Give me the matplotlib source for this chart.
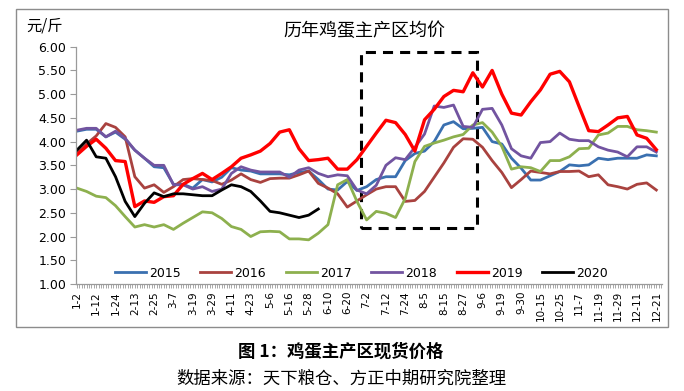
import matplotlib
matplotlib.use('Agg')
from matplotlib import pyplot as plt
from matplotlib.patches import Rectangle
import numpy as np

plt.rcParams['font.family'] = ['DejaVu Sans', 'Noto Sans CJK SC']
CJK = ['Noto Sans CJK SC', 'DejaVu Sans']

# tick labels, one every 8 trading days (series below are sampled every 4 days)
dates = ['1-2', '1-12', '1-24', '2-13', '2-25', '3-7', '3-19', '3-29', '4-11', '4-23',
         '5-6', '5-16', '5-28', '6-10', '6-20', '7-2', '7-12', '7-24', '8-5', '8-15',
         '8-27', '9-6', '9-19', '9-30', '10-15', '10-25', '11-7', '11-19', '11-29',
         '12-11', '12-21']

p2015 = [4.22, 4.26, 4.26, 4.1, 4.2, 4.05, 3.82, 3.65, 3.47, 3.45, 3.1, 3.1, 3.02, 3.2, 3.15, 3.25,
         3.45, 3.4, 3.38, 3.32, 3.32, 3.32, 3.3, 3.35, 3.38, 3.2, 3.0, 2.98, 3.16, 2.97, 3.05,
         3.2, 3.26, 3.26, 3.6, 3.75, 3.8, 4.0, 4.35, 4.42, 4.27, 4.28, 4.3, 4.0, 3.95, 3.65,
         3.44, 3.19, 3.19, 3.28, 3.37, 3.51, 3.49, 3.51, 3.65, 3.62, 3.65, 3.65, 3.65, 3.72, 3.7]
p2016 = [3.75, 3.95, 4.12, 4.38, 4.3, 4.1, 3.26, 3.02, 3.09, 2.93, 3.05, 3.2, 3.22, 3.2, 3.18, 3.1,
         3.19, 3.32, 3.2, 3.14, 3.22, 3.23, 3.23, 3.3, 3.38, 3.12, 3.02, 2.9, 2.62, 2.75, 2.88,
         3.0, 3.05, 3.05, 2.74, 2.76, 2.95, 3.25, 3.55, 3.88, 4.06, 4.05, 3.88, 3.6, 3.35, 3.03,
         3.2, 3.38, 3.35, 3.32, 3.37, 3.37, 3.38, 3.26, 3.3, 3.09, 3.05, 3.0, 3.1, 3.13, 2.98]
p2017 = [3.02, 2.95, 2.85, 2.82, 2.65, 2.42, 2.2, 2.25, 2.2, 2.25, 2.15, 2.28, 2.4, 2.52, 2.5, 2.38,
         2.21, 2.15, 2.0, 2.1, 2.11, 2.1, 1.95, 1.95, 1.93, 2.07, 2.25, 3.09, 3.2, 2.74, 2.35,
         2.53, 2.49, 2.4, 2.8, 3.58, 3.9, 3.97, 4.03, 4.1, 4.15, 4.35, 4.4, 4.2, 3.9, 3.42,
         3.47, 3.45, 3.37, 3.6, 3.6, 3.68, 3.85, 3.86, 4.14, 4.18, 4.32, 4.32, 4.25, 4.23, 4.2]
p2018 = [4.24, 4.28, 4.28, 4.1, 4.22, 4.07, 3.82, 3.65, 3.5, 3.5, 3.09, 3.09, 3.0, 3.05, 2.95, 3.0,
         3.33, 3.47, 3.4, 3.36, 3.36, 3.36, 3.25, 3.4, 3.45, 3.33, 3.26, 3.3, 3.28, 2.98, 2.9,
         3.08, 3.5, 3.66, 3.62, 3.88, 4.16, 4.75, 4.72, 4.77, 4.32, 4.3, 4.68, 4.7, 4.35, 3.85,
         3.7, 3.65, 3.98, 4.0, 4.18, 4.05, 4.02, 4.02, 3.89, 3.82, 3.78, 3.68, 3.89, 3.89, 3.78]
p2019 = [3.72, 3.9, 4.05, 3.86, 3.6, 3.58, 2.63, 2.75, 2.72, 2.84, 2.86, 3.1, 3.22, 3.33, 3.2, 3.33,
         3.47, 3.65, 3.72, 3.8, 3.96, 4.2, 4.25, 3.85, 3.6, 3.62, 3.65, 3.42, 3.42, 3.62, 3.9,
         4.18, 4.45, 4.4, 4.15, 3.8, 4.46, 4.68, 4.95, 5.08, 5.05, 5.45, 5.15, 5.5, 5.0, 4.6,
         4.56, 4.84, 5.09, 5.42, 5.48, 5.26, 4.74, 4.23, 4.21, 4.35, 4.5, 4.53, 4.14, 4.07, 3.83]
p2020 = [3.82, 4.03, 3.68, 3.65, 3.26, 2.74, 2.42, 2.7, 2.92, 2.84, 2.9, 2.9, 2.88, 2.86, 2.86, 2.98,
         3.09, 3.05, 2.95, 2.75, 2.53, 2.5, 2.45, 2.4, 2.45, 2.58]

series = [('2015', p2015, '#3A70B0', 2.0),
          ('2016', p2016, '#A9423F', 2.0),
          ('2017', p2017, '#8DB04E', 2.0),
          ('2018', p2018, '#7254A0', 2.0),
          ('2019', p2019, '#FF0000', 2.4),
          ('2020', p2020, '#000000', 2.0)]

# highlighted period (dashed box), in sample-index / price units
box_x0, box_x1 = 29.4, 41.45
box_y0, box_y1 = 2.19, 5.89

fig = plt.figure(figsize=(6.84, 3.91), dpi=100)
ax = fig.add_axes([0.111, 0.2737, 0.857, 0.6069])

for name, vals, color, lw in series:
    ax.plot(np.arange(len(vals)), vals, color=color, lw=lw, label=name, solid_joinstyle='round')

ax.add_patch(Rectangle((box_x0, box_y0), box_x1 - box_x0, box_y1 - box_y0, fill=False,
                       edgecolor='black', lw=2.2, linestyle=(0, (3.3, 2.3))))

ax.set_ylim(1, 6)
ax.set_yticks(np.arange(1, 6.01, 0.5))
ax.set_yticklabels(['%.2f' % v for v in np.arange(1, 6.01, 0.5)], fontsize=9)
ax.set_xlim(-0.1, 60.6)
ax.set_xticks(np.arange(0, 2 * len(dates), 2))
ax.set_xticklabels(dates, rotation=90, fontsize=7.5)
ax.set_xticks(np.arange(0, 60.6, 0.25), minor=True)
ax.tick_params(axis='x', which='both', length=3, width=0.6, color='#9a9a9a', pad=2)
ax.tick_params(axis='y', length=4, width=0.8, color='#9a9a9a', pad=3)
for s in ['top', 'right']:
    ax.spines[s].set_visible(False)
for s in ['left', 'bottom']:
    ax.spines[s].set_color('#9a9a9a')
    ax.spines[s].set_linewidth(0.9)

ax.legend(loc='center', bbox_to_anchor=(0.487, 0.046), ncol=6, frameon=False, fontsize=9,
          handlelength=2.5, handletextpad=0.25, columnspacing=1.55)

fig.text(0.533, 0.921, '历年鸡蛋主产区均价', family=CJK, fontsize=13, ha='center', va='center')
fig.text(0.039, 0.934, '元/斤', family=CJK, fontsize=11, ha='left', va='center')
fig.text(0.4985, 0.0997, '图 1：鸡蛋主产区现货价格', family=CJK, fontsize=12.5, weight='bold',
         ha='center', va='center')
fig.text(0.4993, 0.0307, '数据来源：天下粮仓、方正中期研究院整理', family=CJK, fontsize=12.5,
         ha='center', va='center')

fig.add_artist(Rectangle((0.023, 0.164), 0.954, 0.813, transform=fig.transFigure, fill=False,
                         edgecolor='#8c8c8c', lw=1))

plt.savefig('out.png', dpi=100)
